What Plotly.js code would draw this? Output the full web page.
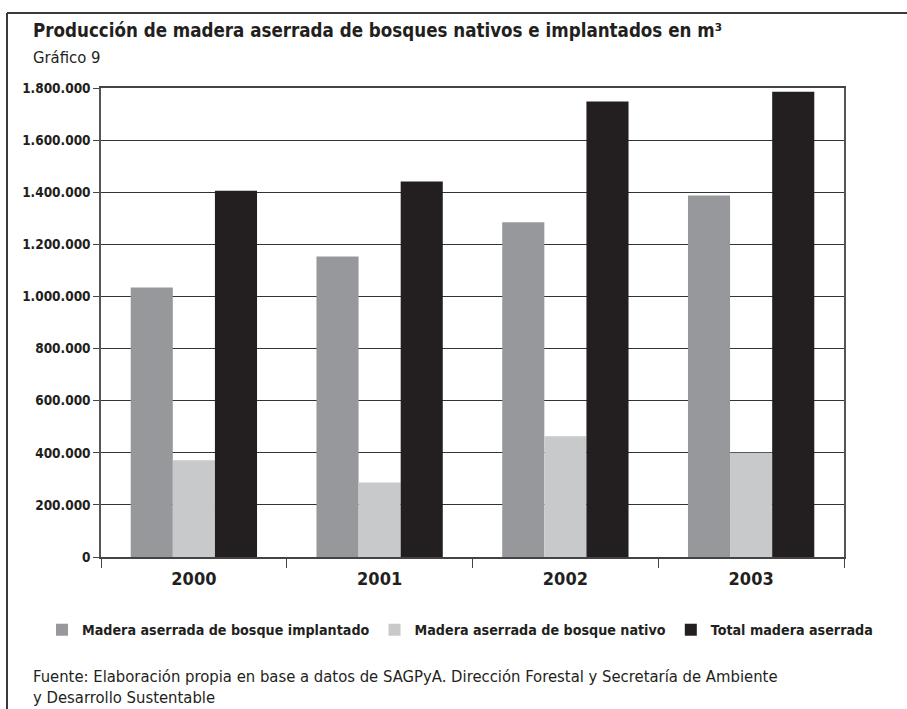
<!DOCTYPE html>
<html>
<head>
<meta charset="utf-8">
<script src="https://cdn.plot.ly/plotly-3.0.1.min.js"></script>
<style>
html,body{margin:0;padding:0;background:#fff;}
#chart{width:907px;height:709px;}
</style>
</head>
<body>
<div id="chart"></div>
<script>
const years = ['2000', '2001', '2002', '2003'];
const implantado = [1034000, 1153000, 1285000, 1387000];
const nativo = [371000, 286000, 463000, 400000];
const total = [1406000, 1441000, 1748000, 1786000];
const seriesNames = ['Madera aserrada de bosque implantado', 'Madera aserrada de bosque nativo', 'Total madera aserrada'];
const yTicks = [0, 200000, 400000, 600000, 800000, 1000000, 1200000, 1400000, 1600000, 1800000];

const FONT = '"DejaVu Sans Condensed", "Liberation Sans Narrow", "DejaVu Sans", sans-serif';
const colors = ['#97989c', '#c8c9cb', '#231f20'];

const traces = [implantado, nativo, total].map((vals, i) => ({
  type: 'bar',
  x: years,
  y: vals,
  name: seriesNames[i],
  marker: {color: colors[i], line: {width: 0}},
  hoverinfo: 'x+y+name'
}));

// helpers for decoration in paper coordinates
const L = 101, R = 63, T = 88, B = 152, W = 907, H = 709;
const pw = W - L - R, ph = H - T - B;
const px = v => (v - L) / pw;
const py = v => (H - B - v) / ph;

const layout = {
  width: W, height: H,
  margin: {l: L, r: R, t: T, b: B, pad: 0},
  paper_bgcolor: '#fff',
  plot_bgcolor: '#fff',
  separators: ',.',
  font: {family: FONT, color: '#231f20'},
  barmode: 'group',
  bargap: 0.32,
  bargroupgap: 0,
  showlegend: true,
  legend: {
    orientation: 'h',
    x: px(42), xanchor: 'left',
    y: py(630), yanchor: 'middle',
    font: {family: FONT, size: 14.2, color: '#231f20', weight: 'bold'},
    bgcolor: 'rgba(0,0,0,0)',
    traceorder: 'normal'
  },
  xaxis: {
    type: 'category',
    tickson: 'boundaries',
    ticks: 'outside', ticklen: 9, tickcolor: '#444', tickwidth: 1,
    ticklabelstandoff: 5,
    showline: true, linecolor: '#444', linewidth: 1.5, mirror: true,
    showgrid: false,
    tickfont: {family: FONT, size: 18, color: '#231f20', weight: 'bold'},
    fixedrange: true
  },
  yaxis: {
    range: [0, 1800000],
    tickvals: yTicks,
    tickformat: ',d',
    ticks: 'outside', ticklen: 6, tickcolor: '#444', tickwidth: 1,
    showline: true, linecolor: '#555', linewidth: 1.5, mirror: true,
    showgrid: true, gridcolor: '#333', gridwidth: 1.2,
    zeroline: false,
    tickfont: {family: FONT, size: 13.5, color: '#231f20', weight: 'bold'},
    fixedrange: true
  },
  annotations: [
    {text: 'Producción de madera aserrada de bosques nativos e implantados en m³',
     xref: 'paper', yref: 'paper', x: px(31), y: py(31), xanchor: 'left', yanchor: 'middle',
     showarrow: false, font: {family: FONT, size: 18.6, weight: 'bold', color: '#231f20'}},
    {text: 'Gráfico 9',
     xref: 'paper', yref: 'paper', x: px(31), y: py(58), xanchor: 'left', yanchor: 'middle',
     showarrow: false, font: {family: FONT, size: 16.5, color: '#231f20'}},
    {text: 'Fuente: Elaboración propia en base a datos de SAGPyA. Dirección Forestal y Secretaría de Ambiente<br>y Desarrollo Sustentable',
     xref: 'paper', yref: 'paper', x: px(31), y: py(687), xanchor: 'left', yanchor: 'middle', align: 'left',
     showarrow: false, font: {family: FONT, size: 16.5, color: '#231f20'}}
  ],
  shapes: [
    {type: 'line', xref: 'paper', yref: 'paper', x0: px(7), x1: px(907), y0: py(13), y1: py(13),
     line: {color: '#3a3a3a', width: 2}},
    {type: 'line', xref: 'paper', yref: 'paper', x0: px(7), x1: px(7), y0: py(13), y1: py(709),
     line: {color: '#3a3a3a', width: 2}}
  ]
};

Plotly.newPlot('chart', traces, layout, {displayModeBar: false, staticPlot: false});
</script>
</body>
</html>
